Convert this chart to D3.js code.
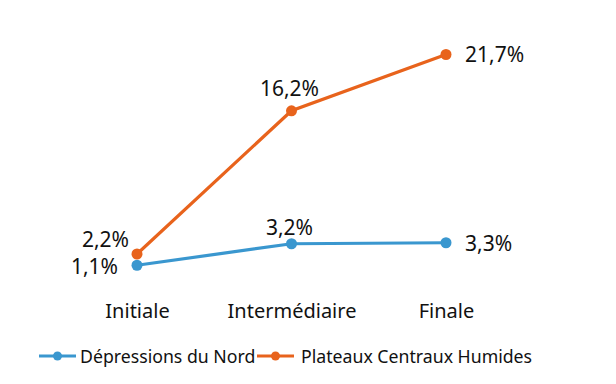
<!DOCTYPE html>
<html><head><meta charset="utf-8">
<script src="https://cdn.jsdelivr.net/npm/d3@7"></script>
<style>body{margin:0;background:#fff}text{font-family:"Noto Sans","Open Sans",sans-serif;fill:#111}</style>
</head><body><svg id="c" width="616" height="384"></svg>
<script>
const categories = ["Initiale", "Intermédiaire", "Finale"];
const seriesNames = ["Dépressions du Nord", "Plateaux Centraux Humides"];
const depressions = [1.1, 3.2, 3.3];
const plateaux = [2.2, 16.2, 21.7];
const labelsDep = ["1,1%", "3,2%", "3,3%"];
const labelsPla = ["2,2%", "16,2%", "21,7%"];
const colors = ["#3A97CF", "#E8631C"];

const svg = d3.select("#c");
const x = d3.scalePoint().domain(categories).range([137, 446]);
const y = d3.scaleLinear().domain([0, 21.7]).range([276.5, 54.5]);

const series = [
  {name: seriesNames[0], values: depressions, labels: labelsDep, color: colors[0]},
  {name: seriesNames[1], values: plateaux, labels: labelsPla, color: colors[1]}
];
const line = d3.line().x((d,i)=>x(categories[i])).y(d=>y(d));
series.forEach(s=>{
  svg.append("path").attr("d", line(s.values)).attr("fill","none")
    .attr("stroke", s.color).attr("stroke-width", 3.2);
  svg.selectAll(null).data(s.values).enter().append("circle")
    .attr("cx",(d,i)=>x(categories[i])).attr("cy",d=>y(d)).attr("r",5.5).attr("fill",s.color);
});

const fs = 21;
function lab(txt, xx, yy, anchor){
  svg.append("text").attr("x",xx).attr("y",yy).attr("text-anchor",anchor)
    .attr("font-size",fs).text(txt);
}
lab(series[0].labels[0], x(categories[0]) - 19, y(depressions[0]) + 9, "end");
lab(series[0].labels[1], x(categories[1]) - 2, y(depressions[1]) - 9, "middle");
lab(series[0].labels[2], x(categories[2]) + 19, y(depressions[2]) + 8, "start");
lab(series[1].labels[0], x(categories[0]) - 8, y(plateaux[0]) - 7, "end");
lab(series[1].labels[1], x(categories[1]) - 2, y(plateaux[1]) - 15, "middle");
lab(series[1].labels[2], x(categories[2]) + 19, y(plateaux[2]) + 7.5, "start");

const xAxis = d3.axisBottom(x).tickSize(0).tickPadding(0);
const ga = svg.append("g").attr("transform","translate(0,318)").call(xAxis);
ga.select(".domain").remove();
ga.selectAll("text").attr("font-size",20).attr("fill","#111").attr("dy","0")
  .style("font-family","'Noto Sans','Open Sans',sans-serif");

const lg = svg.append("g").attr("transform","translate(0,356)");
const items = [{x:39, tx:80, s:series[0]}, {x:257, tx:301, s:series[1]}];
items.forEach(it=>{
  lg.append("line").attr("x1",it.x).attr("x2",it.x+37).attr("y1",0).attr("y2",0)
    .attr("stroke",it.s.color).attr("stroke-width",3);
  lg.append("circle").attr("cx",it.x+18.5).attr("cy",0).attr("r",4.5).attr("fill",it.s.color);
  lg.append("text").attr("x",it.tx).attr("y",6.5).attr("font-size",17.7).text(it.s.name);
});
</script></body></html>
